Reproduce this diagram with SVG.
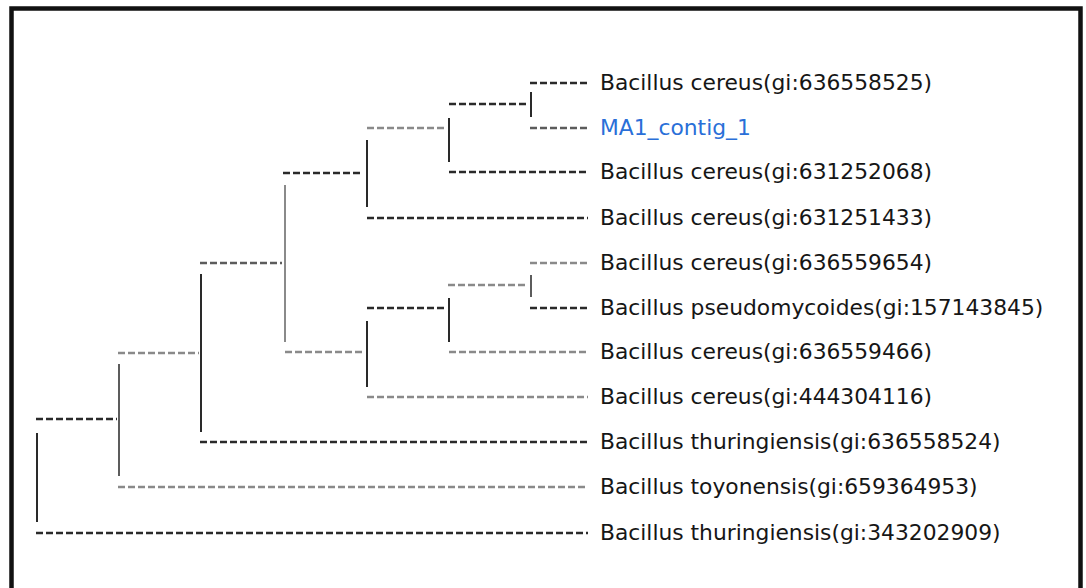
<svg xmlns="http://www.w3.org/2000/svg" width="1086" height="588" viewBox="0 0 1086 588">
  <style>
    .h { stroke-width: 2.4; stroke-dasharray: 7 3; fill: none; }
    .v { stroke-width: 2; fill: none; }
    .dk { stroke: #2a2a2a; }
    .md { stroke: #5c5c5c; }
    .lt { stroke: #8a8a8a; }
    .lbl { font-family: "DejaVu Sans", "Liberation Sans", sans-serif; font-size: 21.8px; fill: #161616; }
    .blue { fill: #2a6fd8; }
  </style>
  <rect x="0" y="0" width="1086" height="588" fill="#ffffff"/>
  <rect x="11.5" y="8.5" width="1069" height="600" fill="none" stroke="#111111" stroke-width="4.5"/>
  <g id="connectors">
    <line class="h dk" x1="530" y1="83" x2="588" y2="83"/>
    <line class="h md" x1="530" y1="128" x2="588" y2="128"/>
    <line class="h dk" x1="449" y1="104" x2="528" y2="104"/>
    <line class="h dk" x1="449" y1="172" x2="588" y2="172"/>
    <line class="h lt" x1="367" y1="128" x2="446" y2="128"/>
    <line class="h dk" x1="367" y1="218" x2="588" y2="218"/>
    <line class="h dk" x1="283" y1="173" x2="363" y2="173"/>
    <line class="h md" x1="200" y1="263" x2="282" y2="263"/>
    <line class="h lt" x1="285" y1="352" x2="363" y2="352"/>
    <line class="h lt" x1="530" y1="263" x2="588" y2="263"/>
    <line class="h dk" x1="530" y1="308" x2="588" y2="308"/>
    <line class="h lt" x1="448" y1="285" x2="527" y2="285"/>
    <line class="h dk" x1="367" y1="308" x2="445" y2="308"/>
    <line class="h lt" x1="449" y1="352" x2="588" y2="352"/>
    <line class="h lt" x1="367" y1="397" x2="588" y2="397"/>
    <line class="h lt" x1="118" y1="353" x2="199" y2="353"/>
    <line class="h dk" x1="200" y1="442" x2="588" y2="442"/>
    <line class="h dk" x1="36" y1="419" x2="117" y2="419"/>
    <line class="h lt" x1="118" y1="487" x2="588" y2="487" stroke-width="1.8"/>
    <line class="h dk" x1="36" y1="533" x2="588" y2="533"/>
    <line class="v dk" x1="531" y1="92" x2="531" y2="117"/>
    <line class="v md" x1="531" y1="275" x2="531" y2="297"/>
    <line class="v dk" x1="449" y1="118" x2="449" y2="162"/>
    <line class="v dk" x1="449" y1="298" x2="449" y2="342"/>
    <line class="v dk" x1="367" y1="140" x2="367" y2="207"/>
    <line class="v dk" x1="367" y1="321" x2="367" y2="387"/>
    <line class="v lt" x1="285" y1="185" x2="285" y2="342"/>
    <line class="v dk" x1="201" y1="274" x2="201" y2="432" stroke="#1a1a1a"/>
    <line class="v md" x1="119" y1="364" x2="119" y2="476"/>
    <line class="v dk" x1="37" y1="433" x2="37" y2="522"/>
  </g>
  <g id="leaf-636558525"><text class="lbl" x="600" y="90">Bacillus cereus(gi:636558525)</text></g>
  <g id="leaf-MA1_contig_1"><text class="lbl blue" x="600" y="135">MA1_contig_1</text></g>
  <g id="leaf-631252068"><text class="lbl" x="600" y="179">Bacillus cereus(gi:631252068)</text></g>
  <g id="leaf-631251433"><text class="lbl" x="600" y="225">Bacillus cereus(gi:631251433)</text></g>
  <g id="leaf-636559654"><text class="lbl" x="600" y="270">Bacillus cereus(gi:636559654)</text></g>
  <g id="leaf-157143845"><text class="lbl" x="600" y="315">Bacillus pseudomycoides(gi:157143845)</text></g>
  <g id="leaf-636559466"><text class="lbl" x="600" y="359">Bacillus cereus(gi:636559466)</text></g>
  <g id="leaf-444304116"><text class="lbl" x="600" y="404">Bacillus cereus(gi:444304116)</text></g>
  <g id="leaf-636558524"><text class="lbl" x="600" y="449">Bacillus thuringiensis(gi:636558524)</text></g>
  <g id="leaf-659364953"><text class="lbl" x="600" y="494">Bacillus toyonensis(gi:659364953)</text></g>
  <g id="leaf-343202909"><text class="lbl" x="600" y="540">Bacillus thuringiensis(gi:343202909)</text></g>
</svg>
